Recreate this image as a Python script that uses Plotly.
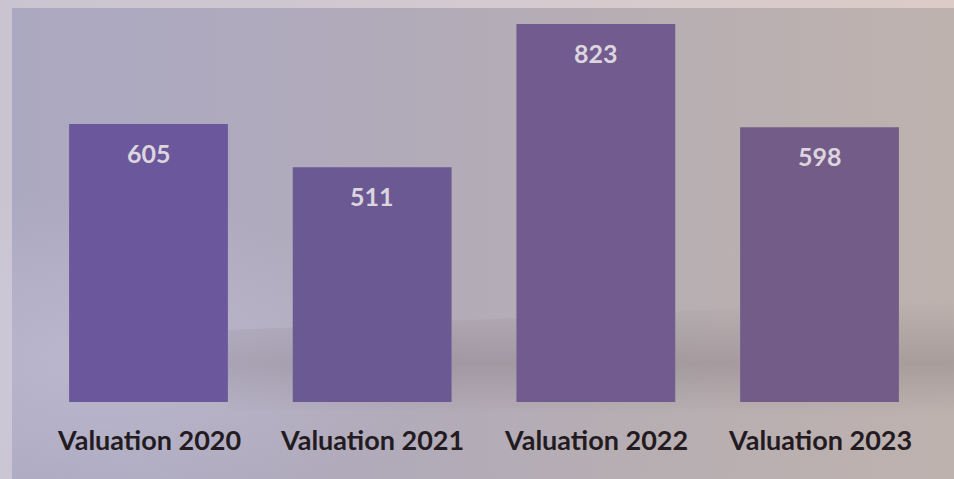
import base64
import plotly.graph_objects as go

categories = ["Valuation 2020", "Valuation 2021", "Valuation 2022", "Valuation 2023"]
values = [605, 511, 823, 598]
bar_colors = ["#6b579b", "#6b5994", "#725b8e", "#745c89"]

W, H = 954, 479

svg = f'''<svg xmlns="http://www.w3.org/2000/svg" width="{W}" height="{H}" viewBox="0 0 {W} {H}" preserveAspectRatio="none">
<defs>
<linearGradient id="frame" x1="0" y1="0" x2="1" y2="0">
<stop offset="0" stop-color="#c9c4d0"/><stop offset="0.5" stop-color="#d4cad0"/><stop offset="1" stop-color="#dccbc6"/>
</linearGradient>
<linearGradient id="bg" x1="0" y1="0" x2="1" y2="0">
<stop offset="0" stop-color="#aba8c1"/><stop offset="0.35" stop-color="#b0aabb"/><stop offset="0.65" stop-color="#b7aeb3"/><stop offset="1" stop-color="#beb2ae"/>
</linearGradient>
<linearGradient id="shade" x1="0" y1="0" x2="0" y2="1">
<stop offset="0" stop-color="#5e5258" stop-opacity="0"/><stop offset="0.55" stop-color="#5e5258" stop-opacity="0.22"/><stop offset="1" stop-color="#5e5258" stop-opacity="0"/>
</linearGradient>
<radialGradient id="glow" cx="0.1" cy="0.75" r="0.35">
<stop offset="0" stop-color="#d6d2e6" stop-opacity="0.35"/><stop offset="1" stop-color="#d6d2e6" stop-opacity="0"/>
</radialGradient>
</defs>
<rect x="0" y="0" width="{W}" height="{H}" fill="url(#frame)"/>
<rect x="12" y="8" width="{W-12}" height="{H-8}" fill="url(#bg)"/>
<polygon points="228,330 954,300 954,415 228,410" fill="url(#shade)"/>
<rect x="0" y="0" width="{W}" height="{H}" fill="url(#glow)"/>
</svg>'''
bg_uri = "data:image/svg+xml;base64," + base64.b64encode(svg.encode()).decode()

# pixel geometry -> axis ranges (margins are zero, plot fills the page)
step_px = 223.67
first_center_px = 148.5
x0 = -first_center_px / step_px
x1 = x0 + W / step_px
px_per_unit = 0.4594
base_px = 402
y_top = base_px / px_per_unit
y_bot = -(H - base_px) / px_per_unit

fig = go.Figure()
fig.add_trace(go.Bar(
    x=list(range(len(categories))),
    y=values,
    marker=dict(color=bar_colors, line=dict(width=0)),
    width=0.71,
    hoverinfo="skip",
))

font_family = "Lato, 'Open Sans', sans-serif"
for i, (c, v) in enumerate(zip(categories, values)):
    fig.add_annotation(x=i, y=v, text=f"<b>{v}</b>", showarrow=False,
                       yanchor="middle", yshift=-29,
                       font=dict(family=font_family, size=25, color="#ddd5de"))
    fig.add_annotation(x=i, y=0, text=f"<b>{c}</b>", showarrow=False,
                       yanchor="middle", yshift=-37,
                       font=dict(family=font_family, size=27, color="#231b1f"))

fig.update_layout(
    width=W, height=H,
    margin=dict(l=0, r=0, t=0, b=0),
    paper_bgcolor="#b4adb8",
    plot_bgcolor="rgba(0,0,0,0)",
    showlegend=False,
    xaxis=dict(range=[x0, x1], visible=False, fixedrange=True),
    yaxis=dict(range=[y_bot, y_top], visible=False, fixedrange=True),
    images=[dict(source=bg_uri, xref="paper", yref="paper", x=0, y=1,
                 sizex=1, sizey=1, sizing="stretch", layer="below",
                 xanchor="left", yanchor="top")],
)

fig.write_html("out.html", config={"displayModeBar": False},
               post_script="document.body.style.margin='0';document.body.style.overflow='hidden';")
